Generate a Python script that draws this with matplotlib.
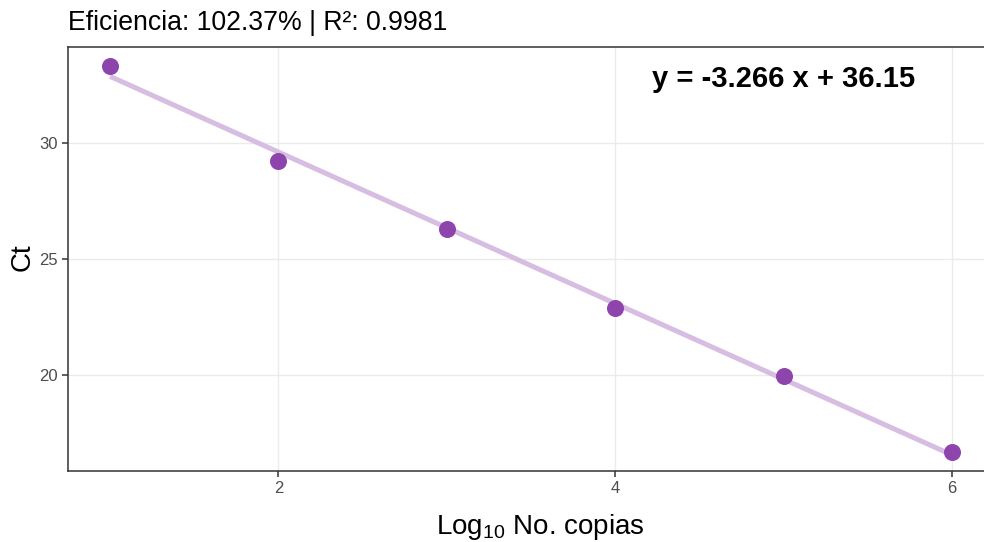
import numpy as np
import matplotlib.pyplot as plt

plt.rcParams['font.family'] = ['Liberation Sans', 'DejaVu Sans']
plt.rcParams['mathtext.fontset'] = 'custom'
plt.rcParams['mathtext.rm'] = 'Liberation Sans'
plt.rcParams['mathtext.it'] = 'Liberation Sans'

# data
log_copias = [1, 2, 3, 4, 5, 6]
ct = [33.32, 29.23, 26.30, 22.91, 19.95, 16.69]
slope = -3.266
intercept = 36.15
titulo = 'Eficiencia: 102.37% | R²: 0.9981'
ecuacion = 'y = -3.266 x + 36.15'

W, H = 9.84, 5.42
fig = plt.figure(figsize=(W, H), dpi=100)
# panel runs a little past the right edge, like the reference
ax = fig.add_axes([68 / 984, 1 - 471 / 542, (994 - 68) / 984, (471 - 47) / 542])

xs = np.array(log_copias)
ax.plot(xs, slope * xs + intercept, color='#d7bde2', lw=3.6, zorder=2,
        solid_capstyle='butt')
ax.scatter(log_copias, ct, s=150, color='#8e44ad', zorder=3, linewidths=0)

xr = max(log_copias) - min(log_copias)
yr = max(ct) - min(ct)
ax.set_xlim(min(log_copias) - 0.05 * xr, max(log_copias) + 0.05 * xr)
ax.set_ylim(min(ct) - 0.05 * yr, max(ct) + 0.05 * yr)
ax.set_xticks([2, 4, 6])
ax.set_yticks([20, 25, 30])

ax.grid(True, color='#ebebeb', lw=1.0, zorder=0)
ax.set_axisbelow(True)
for s in ax.spines.values():
    s.set_color('#333333')
    s.set_linewidth(1.1)
ax.tick_params(colors='#333333', labelcolor='#4d4d4d', labelsize=12,
               length=4, width=1.1, pad=3.5)

ax.text(5.0, 32.75, ecuacion, fontsize=21, fontweight='bold',
        ha='center', va='center', color='black')

fig.text(540 / 984, 1 - 527 / 542, 'Log$_{10}$ No. copias', fontsize=20,
         ha='center', va='center')
fig.text(23 / 984, 1 - 257 / 542, 'Ct', fontsize=20, rotation=90,
         ha='center', va='center')
fig.text(68 / 984, 1 - 23 / 542, titulo, fontsize=19.2, ha='left', va='center')

fig.savefig('out.png', dpi=100)
